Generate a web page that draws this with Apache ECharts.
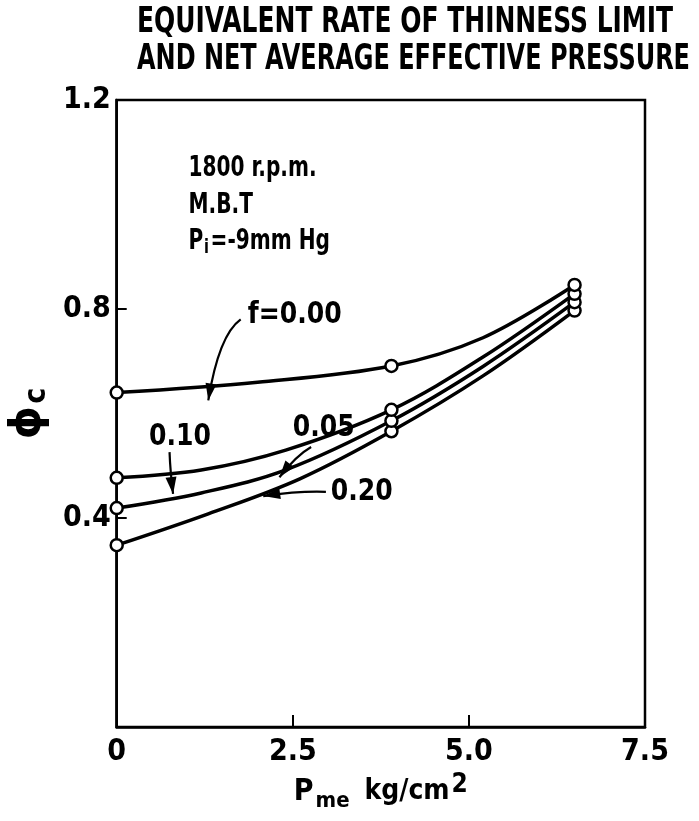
<!DOCTYPE html>
<html><head><meta charset="utf-8">
<script src="https://cdn.jsdelivr.net/npm/echarts@6/dist/echarts.min.js"></script>
<style>html,body{margin:0;padding:0;background:#fff}#c{width:699px;height:821px}</style>
</head><body><div id="c"></div>
<script>
const FONT = "'DejaVu Sans Condensed','Liberation Sans Narrow',sans-serif";
const titleLines = ['EQUIVALENT RATE OF THINNESS LIMIT', 'AND NET AVERAGE EFFECTIVE PRESSURE'];
const titleWidths = [536, 553];
const xTicks = [0, 2.5, 5.0, 7.5];
const yTicks = [0.4, 0.8, 1.2];
const seriesNames = ['f=0.00', '0.05', '0.10', '0.20'];
// measured points (circles)
const pme = [0, 3.9, 6.5];
const phi000 = [0.640, 0.691, 0.846];
const phi005 = [0.477, 0.607, 0.829];
const phi010 = [0.419, 0.586, 0.813];
const phi020 = [0.348, 0.566, 0.797];
// faired curves
const curveX000 = [0, 2.0, 3.9, 5.2, 6.5];
const curveY000 = [0.640, 0.660, 0.691, 0.745, 0.846];
const curveX005 = [0, 1.2, 2.4, 3.9, 5.2, 6.5];
const curveY005 = [0.477, 0.492, 0.530, 0.607, 0.708, 0.829];
const curveX010 = [0, 1.2, 2.4, 3.9, 5.2, 6.5];
const curveY010 = [0.419, 0.448, 0.492, 0.586, 0.690, 0.813];
const curveX020 = [0, 1.3, 2.6, 3.9, 5.2, 6.5];
const curveY020 = [0.348, 0.408, 0.475, 0.566, 0.672, 0.797];
const conditions = ['1800 r.p.m.', 'M.B.T', 'Pi=-9mm Hg'];
const condPos = [[1.02, 1.068], [1.02, 0.997], [1.02, 0.928]];
// curve labels: [text, labelX, labelY, arrowFrom, arrowCtrl, arrowTo]
const curveLabels = [
  ['f=0.00', 1.86, 0.789, [1.76, 0.780], [1.45, 0.75], [1.30, 0.625]],
  ['0.05', 2.50, 0.572, [2.76, 0.536], [2.55, 0.52], [2.31, 0.478]],
  ['0.10', 0.46, 0.555, [0.75, 0.526], [0.76, 0.49], [0.80, 0.446]],
  ['0.20', 3.04, 0.450, [2.97, 0.450], [2.60, 0.452], [2.08, 0.442]]
];
const allPhi = [phi000, phi005, phi010, phi020];
const allCX = [curveX000, curveX005, curveX010, curveX020];
const allCY = [curveY000, curveY005, curveY010, curveY020];

const ctx = document.createElement('canvas').getContext('2d');
function fitScale(text, size, target) {
  ctx.font = 'bold ' + size + 'px ' + FONT;
  return target / ctx.measureText(text).width;
}

const chart = echarts.init(document.getElementById('c'));
const series = [];
allCX.forEach((xs, i) => series.push({
  name: seriesNames[i], type: 'line', smooth: 0.35, symbol: 'none',
  data: xs.map((x, j) => [x, allCY[i][j]]),
  lineStyle: { color: '#000', width: 3.5 }, z: 3
}));
allPhi.forEach((arr, i) => series.push({
  name: seriesNames[i] + ' pts', type: 'scatter',
  data: pme.map((x, j) => [x, arr[j]]),
  symbol: 'circle', symbolSize: 12,
  itemStyle: { color: '#fff', borderColor: '#000', borderWidth: 2.5, opacity: 1 },
  z: 5 + (3 - i)
}));
chart.setOption({
  animation: false,
  backgroundColor: '#fff',
  grid: { left: 115, right: 54, top: 100, bottom: 94, show: true, borderColor: '#000', borderWidth: 2.5, backgroundColor: 'transparent' },
  xAxis: {
    type: 'value', min: 0, max: 7.5, interval: 2.5,
    axisLine: { lineStyle: { color: '#000', width: 2.5 } },
    axisTick: { inside: true, length: 12, lineStyle: { color: '#000', width: 2 } },
    axisLabel: { color: '#000', fontSize: 30, fontFamily: FONT, fontWeight: 'bold', margin: 10,
      formatter: v => v === 0 ? '0' : v.toFixed(1) },
    splitLine: { show: false },
    name: '{p|P}{sub|me}{n| kg/cm}{sup|2}', nameLocation: 'middle', nameGap: 36,
    nameTextStyle: { rich: {
      p: { fontSize: 30, fontFamily: FONT, fontWeight: 'bold', color: '#000' },
      sub: { fontSize: 22, fontFamily: FONT, fontWeight: 'bold', color: '#000', verticalAlign: 'bottom', padding: [18, 0, 0, 2] },
      n: { fontSize: 28, fontFamily: FONT, fontWeight: 'bold', color: '#000', padding: [0, 0, 0, 6] },
      sup: { fontSize: 26, fontFamily: FONT, fontWeight: 'bold', color: '#000', verticalAlign: 'top', padding: [0, 0, 14, 2] }
    } }
  },
  yAxis: {
    type: 'value', min: 0, max: 1.2, interval: 0.4,
    axisLine: { lineStyle: { color: '#000', width: 2.5 } },
    axisTick: { inside: true, length: 10, lineStyle: { color: '#000', width: 2 } },
    axisLabel: { color: '#000', fontSize: 30, fontFamily: FONT, fontWeight: 'bold', margin: 6,
      formatter: v => v === 0 ? '' : v.toFixed(1) },
    splitLine: { show: false },
    name: '{phi|ϕ}{sub|c}', nameLocation: 'middle', nameGap: 62, nameRotate: 90,
    nameTextStyle: { rich: {
      phi: { fontSize: 42, fontFamily: "'DejaVu Sans',sans-serif", fontWeight: 'bold', color: '#000' },
      sub: { fontSize: 30, fontFamily: FONT, fontWeight: 'bold', color: '#000', verticalAlign: 'bottom', padding: [16, 0, 0, 2] }
    } }
  },
  series: series
});

function px(p) { return chart.convertToPixel({ xAxisIndex: 0, yAxisIndex: 0 }, p); }
const graphics = [];
titleLines.forEach((t, i) => graphics.push({
  type: 'text', x: 137, y: 5 + i * 37, scaleX: fitScale(t, 35, titleWidths[i]),
  style: { text: t, fontSize: 35, fontFamily: FONT, fontWeight: 'bold', fill: '#000' }
}));
const cScale = fitScale(conditions[0], 28, 128);
conditions.forEach((t, i) => {
  const p = px(condPos[i]);
  let text = t;
  if (i === 2) { text = '{a|P}{s|i}{a|=-9mm Hg}'; }
  graphics.push({ type: 'text', x: p[0], y: p[1], scaleX: cScale,
    style: { text: text, fontSize: 28, fontFamily: FONT, fontWeight: 'bold', fill: '#000', verticalAlign: 'middle',
      rich: { a: { fontSize: 28, fontFamily: FONT, fontWeight: 'bold', fill: '#000' },
              s: { fontSize: 20, fontFamily: FONT, fontWeight: 'bold', fill: '#000', verticalAlign: 'bottom', padding: [12, 2, 0, 1] } } } });
});
curveLabels.forEach(c => {
  const lp = px([c[1], c[2]]);
  graphics.push({ type: 'text', x: lp[0], y: lp[1], scaleX: 0.9,
    style: { text: c[0], fontSize: 31, fontFamily: FONT, fontWeight: 'bold', fill: '#000', verticalAlign: 'middle' } });
  const a = px(c[3]), m = px(c[4]), b = px(c[5]);
  graphics.push({ type: 'bezierCurve', shape: { x1: a[0], y1: a[1], x2: b[0], y2: b[1], cpx1: m[0], cpy1: m[1] },
    style: { stroke: '#000', lineWidth: 2.2, fill: null }, z: 10 });
  const dx = b[0] - m[0], dy = b[1] - m[1], L = Math.hypot(dx, dy);
  const ux = dx / L, uy = dy / L, len = 17, w = 5.5;
  graphics.push({ type: 'polygon', shape: { points: [[b[0], b[1]],
      [b[0] - ux * len - uy * w, b[1] - uy * len + ux * w],
      [b[0] - ux * len + uy * w, b[1] - uy * len - ux * w]] },
    style: { fill: '#000' }, z: 10 });
});
chart.setOption({ graphic: graphics });
</script></body></html>
